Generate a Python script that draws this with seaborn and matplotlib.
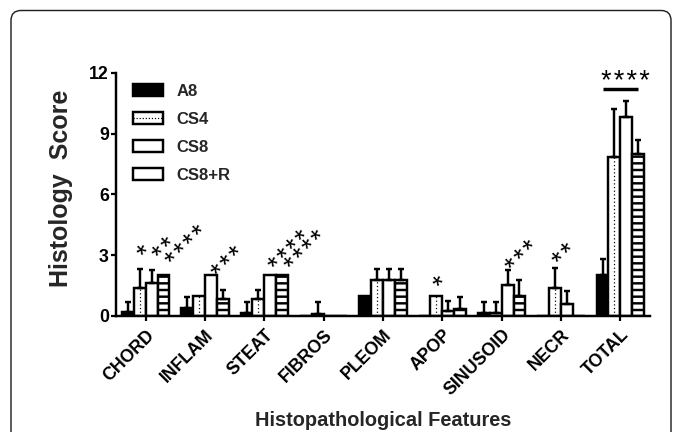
import numpy as np
import pandas as pd
import matplotlib
matplotlib.use("Agg")
import matplotlib.pyplot as plt
import seaborn as sns
from matplotlib.patches import Patch, FancyBboxPatch
from matplotlib.lines import Line2D
from matplotlib.legend_handler import HandlerTuple
from matplotlib.transforms import IdentityTransform

# ---------------- data ----------------
features = ["CHORD", "INFLAM", "STEAT", "FIBROS", "PLEOM", "APOP", "SINUSOID", "NECR", "TOTAL"]
groups = ["A8", "CS4", "CS8", "CS8+R"]

a8_mean = [0.2, 0.4, 0.15, 0.0, 1.0, 0.0, 0.15, 0.0, 2.0]
a8_err = [0.5, 0.55, 0.55, 0.0, 0.0, 0.0, 0.55, 0.0, 0.83]
cs4_mean = [1.4, 1.0, 0.85, 0.1, 1.8, 1.0, 0.15, 1.4, 7.85]
cs4_err = [0.9, 0.0, 0.45, 0.6, 0.5, 0.0, 0.55, 0.95, 2.35]
cs8_mean = [1.65, 2.0, 2.0, 0.0, 1.8, 0.25, 1.55, 0.6, 9.8]
cs8_err = [0.6, 0.0, 0.0, 0.0, 0.5, 0.5, 0.7, 0.65, 0.8]
cs8r_mean = [2.0, 0.85, 2.0, 0.0, 1.8, 0.35, 1.0, 0.0, 8.0]
cs8r_err = [0.0, 0.45, 0.0, 0.0, 0.5, 0.6, 0.8, 0.0, 0.7]

# significance annotations (feature, group, stars, height of first star)
sig_feature = ["CHORD", "CHORD", "CHORD", "INFLAM", "STEAT", "STEAT", "APOP", "SINUSOID", "NECR"]
sig_group = ["CS4", "CS8", "CS8+R", "CS8", "CS8", "CS8+R", "CS4", "CS8", "CS4"]
sig_text = ["*", "**", "****", "***", "****", "****", "*", "***", "**"]
sig_y = [3.34, 3.26, 3.01, 2.40, 2.76, 2.73, 1.81, 2.71, 3.01]
sig_shift_px = [0, 4, 5, 3.5, 1.5, 6, 0, 1, 1]
total_sig_text = "****"
total_sig_line_y = 11.2
total_sig_text_y = 11.94

y_ticks = [0, 3, 6, 9, 12]

means = [a8_mean, cs4_mean, cs8_mean, cs8r_mean]
errs = [a8_err, cs4_err, cs8_err, cs8r_err]

df = pd.DataFrame({
    "feature": np.tile(features, len(groups)),
    "group": np.repeat(groups, len(features)),
    "score": np.concatenate(means),
    "err": np.concatenate(errs),
})

# ---------------- style ----------------
sns.set_theme(style="ticks")
plt.rcParams["font.family"] = ["Liberation Sans", "DejaVu Sans"]
plt.rcParams["font.weight"] = "bold"
plt.rcParams["axes.labelweight"] = "bold"
plt.rcParams["hatch.linewidth"] = 2.2
plt.rcParams["hatch.color"] = "black"

DPI = 80
W, H = 683, 432
fig = plt.figure(figsize=(W / DPI, H / DPI), dpi=DPI)
fig.patch.set_facecolor("white")
ax = fig.add_axes([116 / W, 1 - 316 / H, 534 / W, 243.3 / H])
ax.set_facecolor("white")

palette = {"A8": "black", "CS4": "white", "CS8": "white", "CS8+R": "white"}
sns.barplot(data=df, x="feature", y="score", hue="group", order=features,
            hue_order=groups, palette=palette, errorbar=None, width=0.8,
            edgecolor="black", linewidth=2.2, saturation=1, legend=False, ax=ax)
bar_conts = list(ax.containers)

EW = 2.2
for gi, cont in enumerate(bar_conts):
    for fi, p in enumerate(cont.patches):
        p.set_joinstyle("miter")
        cx = p.get_x() + p.get_width() / 2
        h = p.get_height()
        e = errs[gi][fi]
        if gi == 3:
            p.set_hatch("--")
        if gi == 1 and h > 0.3:
            ax.vlines(cx, 0, h, colors="black", linestyles=(0, (1, 2)), linewidth=1.1, zorder=3)
        if e > 0:
            ax.errorbar(cx, h, yerr=[[0], [e]], fmt="none", ecolor="black",
                        elinewidth=EW, capsize=2.7, capthick=EW, zorder=3)

# significance stars
STAR_PX = 26.9                  # font size in pixels
STAR_FS = STAR_PX * 72 / DPI    # in points
HAIR = "\u200a"
cxs, cys = 0.195 * STAR_PX, 0.57 * STAR_PX   # first glyph centre relative to baseline-left
c45 = np.cos(np.radians(45))
rot_dx = (cxs - cys) * c45
rot_dy = (cxs + cys) * c45

for f, g, t, y, s in zip(sig_feature, sig_group, sig_text, sig_y, sig_shift_px):
    p = bar_conts[groups.index(g)].patches[features.index(f)]
    cx = p.get_x() + p.get_width() / 2
    ax.annotate(HAIR.join(t), xy=(cx, y), xytext=(s - rot_dx, -rot_dy),
                textcoords="offset pixels", rotation=45, rotation_mode="anchor",
                ha="left", va="baseline", fontsize=STAR_FS, fontweight="normal",
                color="black", annotation_clip=False)

pt0 = bar_conts[0].patches[features.index("TOTAL")]
pt3 = bar_conts[3].patches[features.index("TOTAL")]
x0 = pt0.get_x() + pt0.get_width() / 2
x1 = pt3.get_x() + pt3.get_width() / 2
ax.plot([x0, x1], [total_sig_line_y, total_sig_line_y], color="black", lw=3.1,
        solid_capstyle="butt", clip_on=False)
ax.annotate(HAIR.join(total_sig_text), xy=((x0 + x1) / 2, total_sig_text_y),
            xytext=(5, -cys), textcoords="offset pixels", ha="center", va="baseline",
            fontsize=STAR_FS, fontweight="normal", color="black", annotation_clip=False)

# axes
ax.set_xlim(-0.5, 8.5)
ax.set_ylim(0, 12)
ax.set_yticks(y_ticks)
ax.set_yticklabels([str(v) for v in y_ticks])
ax.set_xticks(range(len(features)))
ax.set_xticklabels(features, rotation=45, ha="right", rotation_mode="anchor")
sns.despine(ax=ax)
for s in ["left", "bottom"]:
    ax.spines[s].set_linewidth(2.2)
    ax.spines[s].set_color("black")
ax.tick_params(axis="both", direction="out", length=4.5, width=2.0, colors="black")
ax.tick_params(axis="y", labelsize=16, pad=2)
ax.tick_params(axis="x", labelsize=16, pad=5)

ax.set_ylabel("Histology  Score", fontsize=22.5, fontweight="bold")
ax.yaxis.set_label_coords(-0.0805, 0.525)
ax.set_xlabel("Histopathological Features", fontsize=18, fontweight="bold")
ax.xaxis.set_label_coords(0.5, -0.39)

# legend
lw = 2.2
h_a8 = Patch(facecolor="black", edgecolor="black", linewidth=lw, joinstyle="round")
h_cs4 = (Patch(facecolor="white", edgecolor="black", linewidth=lw, joinstyle="round"),
         Line2D([], [], color="black", linestyle=(0, (1, 1.5)), linewidth=1.1))
h_cs8 = Patch(facecolor="white", edgecolor="black", linewidth=lw, joinstyle="round")
h_cs8r = Patch(facecolor="white", edgecolor="black", linewidth=lw, joinstyle="round")
ax.legend([h_a8, h_cs4, h_cs8, h_cs8r], groups,
          handler_map={tuple: HandlerTuple(ndivide=1)},
          loc="upper left", bbox_to_anchor=(0.032, 0.954), frameon=False,
          fontsize=15, handlelength=1.8, handleheight=0.75, labelspacing=0.78,
          handletextpad=0.8, borderpad=0, borderaxespad=0)

# rounded frame around the figure
frame = FancyBboxPatch((11, -30), 660, 451.5, boxstyle="round,pad=0,rounding_size=10",
                       transform=IdentityTransform(), fill=False, edgecolor="#222222",
                       linewidth=1.3)
fig.add_artist(frame)

fig.savefig("out.png", dpi=DPI, facecolor="white")
